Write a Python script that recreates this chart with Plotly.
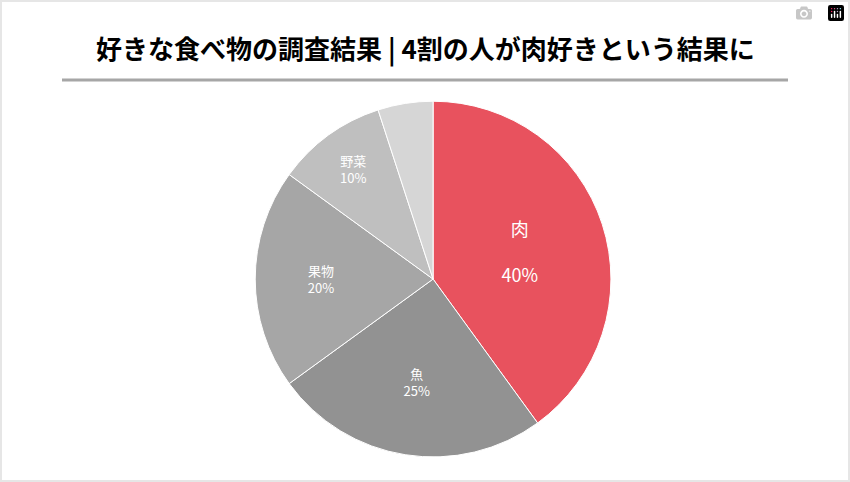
import plotly.graph_objects as go

labels = ["肉", "魚", "果物", "野菜", "その他"]
values = [40, 25, 20, 10, 5]
texts = ["肉<br><br>40%", "魚<br>25%", "果物<br>20%", "野菜<br>10%", ""]
colors = ["#E8525E", "#929292", "#A6A6A6", "#BFBFBF", "#D6D6D6"]
text_sizes = [18, 13, 13, 13, 13]

fig = go.Figure()
fig.add_trace(go.Pie(
    labels=labels,
    values=values,
    text=texts,
    textinfo="text",
    textposition="inside",
    insidetextorientation="horizontal",
    sort=False,
    direction="clockwise",
    rotation=0,
    marker=dict(colors=colors, line=dict(color="white", width=1)),
    textfont=dict(color="white", size=text_sizes, family="Noto Sans CJK JP"),
    domain=dict(x=[0.3, 0.719], y=[0.052, 0.79]),
    showlegend=False,
    hoverinfo="label+percent",
))

fig.update_layout(
    width=850, height=482,
    margin=dict(l=0, r=0, t=0, b=0),
    paper_bgcolor="white",
    plot_bgcolor="white",
    font=dict(family="Noto Sans CJK JP"),
    annotations=[dict(
        text="<b>好きな食べ物の調査結果 | 4割の人が肉好きという結果に</b>",
        x=0.5, y=1 - 48 / 482, xref="paper", yref="paper",
        showarrow=False, font=dict(size=26, color="black"),
        xanchor="center", yanchor="middle",
    )],
    shapes=[
        dict(type="line", xref="paper", yref="paper",
             x0=62 / 850, x1=788 / 850, y0=1 - 80 / 482, y1=1 - 80 / 482,
             line=dict(color="#A6A6A6", width=3)),
        dict(type="rect", xref="paper", yref="paper",
             x0=0, x1=1, y0=0, y1=1,
             line=dict(color="#E6E6E6", width=4)),
    ],
)

# remove the default page margin so the figure sits at the window's corner
fig.write_html("out.html", post_script="document.body.style.margin='0';document.body.style.overflow='hidden';")
